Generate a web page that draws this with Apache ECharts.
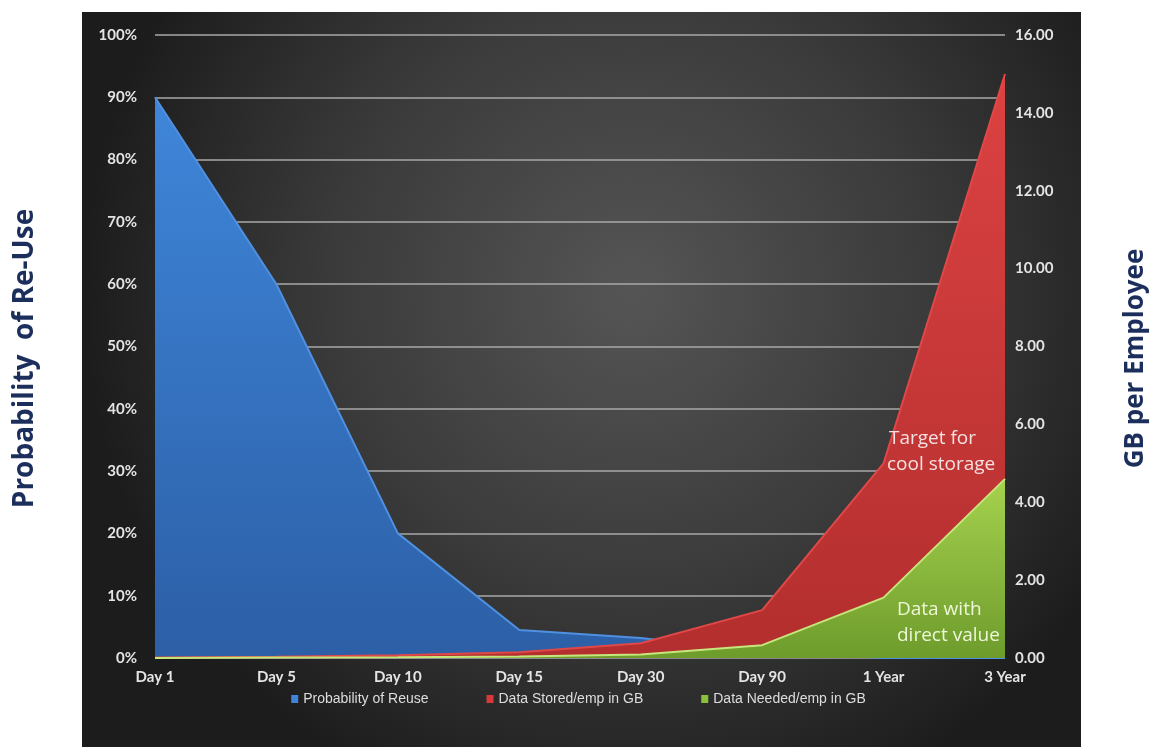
<!DOCTYPE html>
<html>
<head>
<meta charset="utf-8">
<script src="https://cdn.jsdelivr.net/npm/echarts@6/dist/echarts.min.js"></script>
<style>
html,body{margin:0;padding:0;background:#fff;}
#chart{width:1157px;height:749px;}
</style>
</head>
<body>
<div id="chart"></div>
<script>
const categories = ['Day 1','Day 5','Day 10','Day 15','Day 30','Day 90','1 Year','3 Year'];
const reuseProbability = [0.90, 0.60, 0.20, 0.045, 0.032, 0.01, 0, 0];
const dataStoredGB = [0.01, 0.03, 0.07, 0.15, 0.38, 1.23, 5.0, 15.0];
const dataNeededGB = [0.0, 0.01, 0.02, 0.04, 0.09, 0.33, 1.55, 4.6];
const leftTicks = {min: 0, max: 1, interval: 0.1};
const rightTicks = {min: 0, max: 16, interval: 2};

const chart = echarts.init(document.getElementById('chart'));
const labelFont = {color: '#e4e4e4', fontFamily: 'Lato', fontWeight: 'bold', fontSize: 15};

function grad(top, bottom) {
  return new echarts.graphic.LinearGradient(0, 0, 0, 1, [
    {offset: 0, color: top}, {offset: 1, color: bottom}
  ]);
}

function note(x, y, text, fill) {
  return {type: 'text', x: x, y: y, z: 100, silent: true,
    style: {text: text, fill: fill, font: '19px "Open Sans"', align: 'left', verticalAlign: 'middle'}};
}

chart.setOption({
  backgroundColor: '#ffffff',
  animation: false,
  graphic: [
    {
      type: 'rect', z: -100, silent: true,
      shape: {x: 82, y: 12, width: 999, height: 735},
      style: {
        fill: new echarts.graphic.RadialGradient(0.55, 0.38, 0.75, [
          {offset: 0, color: '#555555'},
          {offset: 0.55, color: '#3a3a3a'},
          {offset: 1, color: '#1c1c1c'}
        ])
      }
    },
    note(889, 439, 'Target for', '#f6e0e0'),
    note(887, 465, 'cool storage', '#f6e0e0'),
    note(897, 610, 'Data with', '#eef7d8'),
    note(897, 636, 'direct value', '#eef7d8')
  ],
  grid: {left: 155, right: 150, top: 35, bottom: 91, containLabel: false},
  legend: {
    bottom: 38,
    left: 'center',
    icon: 'rect',
    itemWidth: 7,
    itemHeight: 8,
    itemGap: 58,
    textStyle: {color: '#dddddd', fontFamily: 'Liberation Sans', fontSize: 14},
    data: ['Probability of Reuse', 'Data Stored/emp in GB', 'Data Needed/emp in GB']
  },
  xAxis: {
    type: 'category',
    data: categories,
    boundaryGap: false,
    axisLine: {show: false},
    axisTick: {show: false},
    axisLabel: Object.assign({margin: 12}, labelFont)
  },
  yAxis: [
    {
      type: 'value',
      min: leftTicks.min, max: leftTicks.max, interval: leftTicks.interval,
      name: 'Probability  of Re-Use',
      nameLocation: 'middle',
      nameRotate: 90,
      nameGap: 116,
      nameTextStyle: {color: '#1c2f5c', fontFamily: 'Open Sans', fontWeight: 'bold', fontSize: 28, padding: [0, 24, 0, 0]},
      axisLine: {show: false},
      axisTick: {show: false},
      axisLabel: Object.assign({margin: 18, formatter: v => Math.round(v * 100) + '%'}, labelFont),
      splitLine: {show: true, lineStyle: {color: '#a8a8a8', width: 1.5}}
    },
    {
      type: 'value',
      min: rightTicks.min, max: rightTicks.max, interval: rightTicks.interval,
      name: 'GB per Employee',
      nameLocation: 'middle',
      nameRotate: 90,
      nameGap: 118,
      nameTextStyle: {color: '#1c2f5c', fontFamily: 'Open Sans', fontWeight: 'bold', fontSize: 26, padding: [0, 24, 0, 0]},
      axisLine: {show: false},
      axisTick: {show: false},
      axisLabel: Object.assign({margin: 10, formatter: v => v.toFixed(2)}, labelFont),
      splitLine: {show: false}
    }
  ],
  series: [
    {
      name: 'Probability of Reuse',
      type: 'line',
      yAxisIndex: 0,
      data: reuseProbability,
      symbol: 'none',
      itemStyle: {color: '#3f84d6'},
      lineStyle: {color: '#4f90e0', width: 2},
      areaStyle: {color: grad('#3f86da', '#2c5fa6'), opacity: 1},
      z: 2
    },
    {
      name: 'Data Stored/emp in GB',
      type: 'line',
      yAxisIndex: 1,
      data: dataStoredGB,
      symbol: 'none',
      itemStyle: {color: '#d83a3a'},
      lineStyle: {color: '#e04848', width: 2},
      areaStyle: {color: grad('#dc4242', '#b32e2e'), opacity: 1},
      z: 3
    },
    {
      name: 'Data Needed/emp in GB',
      type: 'line',
      yAxisIndex: 1,
      data: dataNeededGB,
      symbol: 'none',
      itemStyle: {color: '#8cc03a'},
      lineStyle: {color: '#c4e67a', width: 2},
      areaStyle: {color: grad('#a6d24e', '#6e9c2c'), opacity: 1},
      z: 4
    }
  ]
});
</script>
</body>
</html>
